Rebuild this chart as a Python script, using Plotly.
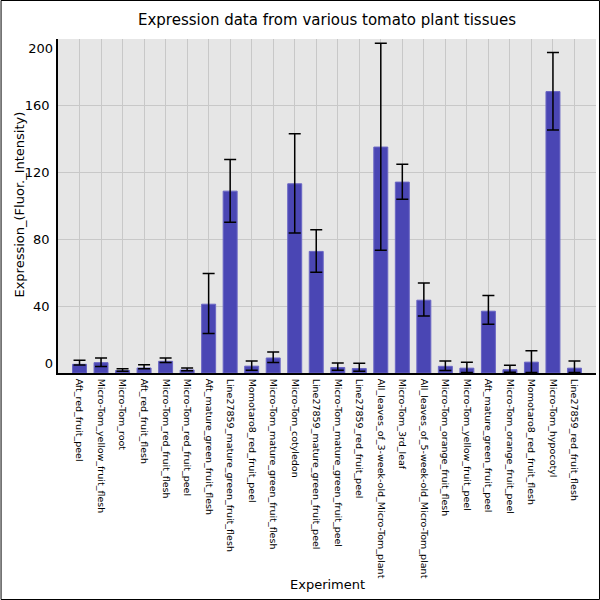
import plotly.graph_objects as go

categories = [
    "Aft_red_fruit_peel", "Micro-Tom_yellow_fruit_flesh", "Micro-Tom_root",
    "Aft_red_fruit_flesh", "Micro-Tom_red_fruit_flesh", "Micro-Tom_red_fruit_peel",
    "Aft_mature_green_fruit_flesh", "Line27859_mature_green_fruit_flesh",
    "Momotaro8_red_fruit_peel", "Micro-Tom_mature_green_fruit_flesh",
    "Micro-Tom_cotyledon", "Line27859_mature_green_fruit_peel",
    "Micro-Tom_mature_green_fruit_peel", "Line27859_red_fruit_peel",
    "All_leaves_of_3-week-old_Micro-Tom_plant", "Micro-Tom_3rd_leaf",
    "All_leaves_of_5-week-old_Micro-Tom_plant", "Micro-Tom_orange_fruit_flesh",
    "Micro-Tom_yellow_fruit_peel", "Aft_mature_green_fruit_peel",
    "Micro-Tom_orange_fruit_peel", "Momotaro8_red_fruit_flesh",
    "Micro-Tom_hypocotyl", "Line27859_red_fruit_flesh",
]
values = [5.2, 6.2, 1.5, 3.0, 7.0, 1.8, 41.2, 108.9, 4.1, 9.0, 113.3, 72.8,
          3.3, 2.7, 135.3, 114.3, 43.6, 4.0, 2.9, 37.0, 2.0, 6.5, 168.5, 2.9]
upper = [7.6, 9.0, 2.5, 5.0, 9.0, 3.0, 59.6, 127.8, 7.2, 12.6, 143.3, 85.8,
         6.0, 5.9, 197.5, 125.0, 53.9, 7.2, 6.4, 46.4, 4.6, 13.3, 191.9, 7.2]
lower = [4.8, 3.9, 1.0, 2.6, 6.3, 1.3, 23.6, 90.3, 1.6, 6.3, 83.8, 60.3,
         1.7, 1.0, 73.5, 104.0, 34.2, 1.5, 0.3, 29.2, 0.5, 0.3, 145.5, 0.3]
y_ticks_mid = [40, 80, 120, 160]
y_tick_top = [200]
y_tick_bottom = [0]

err_plus = [u - v for u, v in zip(upper, values)]
err_minus = [v - l for v, l in zip(values, lower)]

FONT = "DejaVu Sans"
L, R, T, B = 57.5, 4, 39, 227
PW, PH = 600 - L - R, 600 - T - B

fig = go.Figure()
fig.add_trace(go.Bar(
    x=categories, y=values, width=0.65,
    marker=dict(color="#4a46b4", line=dict(color="#6a66c4", width=1)),
    error_y=dict(type="data", symmetric=False, array=err_plus,
                 arrayminus=err_minus, color="black", thickness=1.5, width=6),
))
# helper traces so the extra label axes render
fig.add_trace(go.Scatter(x=[categories[0]], y=[None], yaxis="y2",
                         showlegend=False, hoverinfo="skip"))
fig.add_trace(go.Scatter(x=[categories[0]], y=[None], yaxis="y3",
                         showlegend=False, hoverinfo="skip"))

fig.add_shape(type="rect", xref="paper", yref="paper",
              x0=-(L - 0.5) / PW, x1=1 + (R - 0.5) / PW,
              y0=-(B - 0.5) / PH, y1=1 + (T - 0.5) / PH,
              line=dict(color="black", width=1), layer="above")

fig.add_annotation(text="Experiment", xref="paper", yref="paper",
                   x=0.5, y=(373 - 584) / PH, xanchor="center", yanchor="middle",
                   showarrow=False, font=dict(size=13, family=FONT, color="black"))
fig.add_annotation(text="Expression_(Fluor._Intensity)", xref="paper", yref="paper",
                   x=(18 - L) / PW, y=(373 - 205) / PH, xanchor="center",
                   yanchor="middle", textangle=-90, showarrow=False,
                   font=dict(size=13, family=FONT, color="black"))

fig.update_layout(
    width=600, height=600,
    margin=dict(l=L, r=R, t=T, b=B, autoexpand=False),
    paper_bgcolor="white", plot_bgcolor="#e6e6e6",
    font=dict(family=FONT, color="black"),
    showlegend=False,
    title=dict(text="Expression data from various tomato plant tissues",
               x=0.5, xref="paper", y=1 - 20 / 600, yanchor="middle",
               font=dict(size=15, family=FONT, color="black")),
    yaxis2=dict(overlaying="y", side="left", range=[0, 200], tickvals=y_tick_top,
                ticklabelposition="outside bottom", showgrid=True,
                gridcolor="#c8c8c8", gridwidth=1, ticks="", showline=False,
                zeroline=False, tickfont=dict(size=13, family=FONT),
                ticklabelstandoff=4),
    yaxis3=dict(overlaying="y", side="left", range=[0, 200], tickvals=y_tick_bottom,
                ticklabelposition="outside top", showgrid=False, ticks="",
                showline=False, zeroline=False, tickfont=dict(size=13, family=FONT),
                ticklabelstandoff=4),
)
fig.update_xaxes(
    type="category", range=[-1, len(categories)],
    tickangle=90, tickfont=dict(size=9.5, family=FONT),
    showgrid=True, gridcolor="#c8c8c8", gridwidth=1,
    showline=True, linecolor="black", linewidth=1.5,
    ticks="", ticklabelstandoff=2,
)
fig.layout.yaxis.update(range=[0, 200], tickvals=y_ticks_mid,
                        tickfont=dict(size=13, family=FONT),
                        showgrid=True, gridcolor="#c8c8c8", gridwidth=1,
                        showline=True, linecolor="black", linewidth=1.5,
                        ticks="", zeroline=False, ticklabelstandoff=4)

fig.write_html("out.html", config={"displayModeBar": False},
               post_script="document.body.style.margin='0px';")
